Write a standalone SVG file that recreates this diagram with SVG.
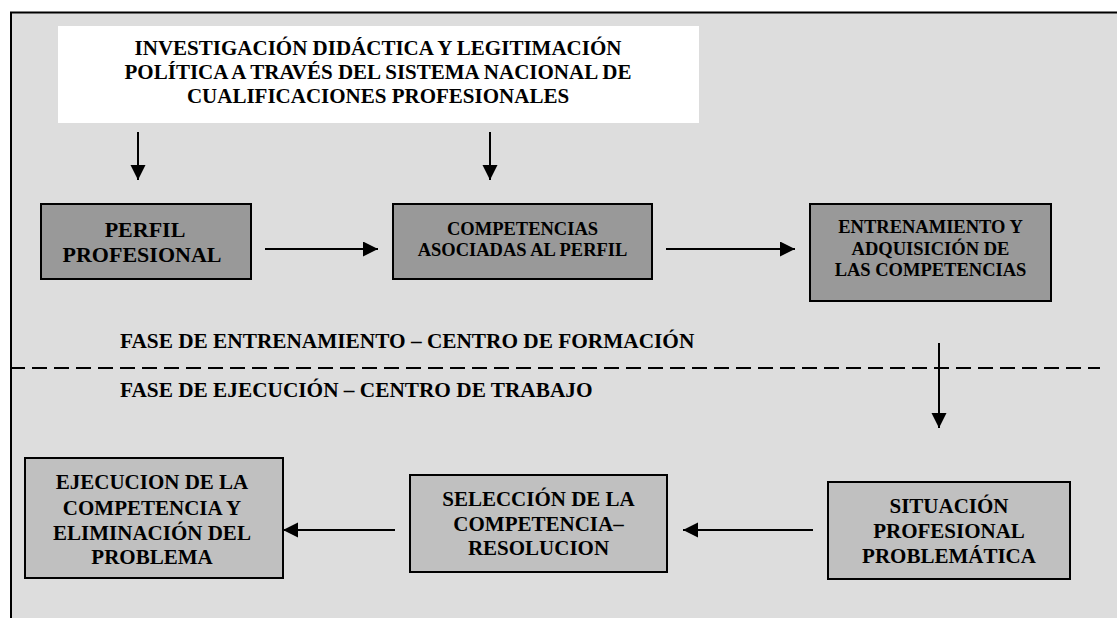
<svg xmlns="http://www.w3.org/2000/svg" width="1117" height="618" viewBox="0 0 1117 618">
<style>
  text { font-family: "Liberation Serif", "Times New Roman", serif; font-weight: bold; fill: #000; text-anchor: middle; }
  .t21 { font-size: 21px; }
  .t22 { font-size: 22px; }
  .t18 { font-size: 18.5px; }
  .ph { font-size: 21.3px; text-anchor: start; }
  .dark { fill: #999999; stroke: #000; stroke-width: 2; }
  .light { fill: #c0c0c0; stroke: #000; stroke-width: 2; }
  .conn { stroke: #000; stroke-width: 2; fill: none; marker-end: url(#ah); }
</style>
<defs>
  <marker id="ah" markerUnits="userSpaceOnUse" markerWidth="16" markerHeight="16" refX="15" refY="7.5" orient="auto">
    <path d="M0,0 L15,7.5 L0,15 z" fill="#000"/>
  </marker>
</defs>
<rect x="0" y="0" width="1117" height="618" fill="#ffffff"/>
<rect x="11" y="12.5" width="1120" height="620" fill="#dddddd" stroke="#000" stroke-width="2"/>

<g id="top-label">
  <rect x="58" y="26" width="641" height="97" fill="#ffffff"/>
  <text class="t21" x="378" y="55">INVESTIGACIÓN DIDÁCTICA Y LEGITIMACIÓN</text>
  <text class="t21" x="378" y="79">POLÍTICA A TRAVÉS DEL SISTEMA NACIONAL DE</text>
  <text class="t21" x="378" y="102.5">CUALIFICACIONES PROFESIONALES</text>
</g>

<g id="perfil">
  <rect class="dark" x="41" y="204" width="210" height="75"/>
  <text class="t22" x="145" y="237">PERFIL</text>
  <text class="t22" x="142" y="262">PROFESIONAL</text>
</g>

<g id="competencias">
  <rect class="dark" x="393" y="204" width="259" height="75"/>
  <text class="t18" x="522.5" y="235">COMPETENCIAS</text>
  <text class="t18" x="522.5" y="256">ASOCIADAS AL PERFIL</text>
</g>

<g id="entrenamiento">
  <rect class="dark" x="810" y="204" width="241" height="97"/>
  <text class="t18" x="930.5" y="233">ENTRENAMIENTO Y</text>
  <text class="t18" x="930.5" y="255">ADQUISICIÓN DE</text>
  <text class="t18" x="930.5" y="276">LAS COMPETENCIAS</text>
</g>

<g id="phases">
  <text class="ph" x="120" y="348">FASE DE ENTRENAMIENTO – CENTRO DE FORMACIÓN</text>
  <line x1="10" y1="368" x2="1100" y2="368" stroke="#000" stroke-width="2" stroke-dasharray="15 7"/>
  <text class="ph" x="120" y="397">FASE DE EJECUCIÓN – CENTRO DE TRABAJO</text>
</g>

<g id="situacion">
  <rect class="light" x="828" y="482" width="242" height="97"/>
  <text class="t21" x="949" y="513">SITUACIÓN</text>
  <text class="t21" x="949" y="538">PROFESIONAL</text>
  <text class="t21" x="949" y="563">PROBLEMÁTICA</text>
</g>

<g id="seleccion">
  <rect class="light" x="410" y="475" width="257" height="97"/>
  <text class="t21" x="538.5" y="506">SELECCIÓN DE LA</text>
  <text class="t21" x="538.5" y="531">COMPETENCIA–</text>
  <text class="t21" x="538.5" y="555">RESOLUCION</text>
</g>

<g id="ejecucion">
  <rect class="light" x="25" y="458" width="258" height="120"/>
  <text class="t21" x="152" y="489">EJECUCION DE LA</text>
  <text class="t21" x="152" y="515">COMPETENCIA Y</text>
  <text class="t21" x="152" y="540">ELIMINACIÓN DEL</text>
  <text class="t21" x="152" y="564">PROBLEMA</text>
</g>

<g id="connectors">
  <line class="conn" x1="138" y1="132" x2="138" y2="180"/>
  <line class="conn" x1="490" y1="132" x2="490" y2="180"/>
  <line class="conn" x1="265" y1="249" x2="378" y2="249"/>
  <line class="conn" x1="666" y1="249" x2="795" y2="249"/>
  <line class="conn" x1="939" y1="343" x2="939" y2="428"/>
  <line class="conn" x1="813" y1="530" x2="683" y2="530"/>
  <line class="conn" x1="395" y1="530" x2="283" y2="530"/>
</g>
</svg>
